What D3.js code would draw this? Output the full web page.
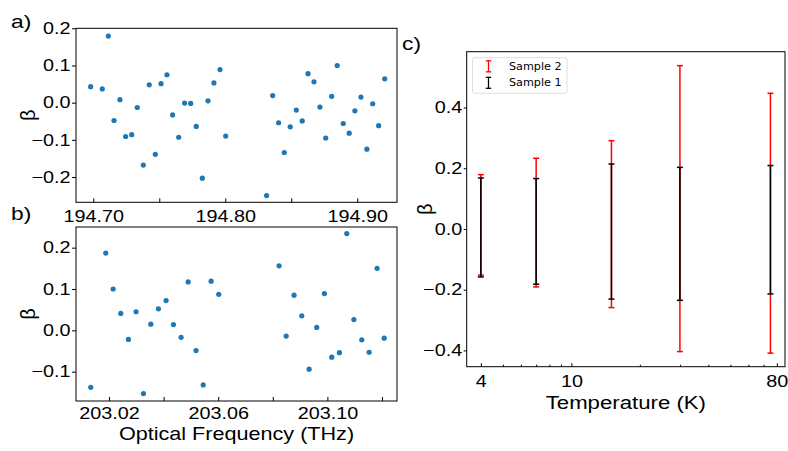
<!DOCTYPE html>
<html>
<head>
<meta charset="utf-8">
<script src="https://cdn.jsdelivr.net/npm/d3@7"></script>
<style>
  body { margin: 0; background: #fff; }
  svg { display: block; }
</style>
</head>
<body>
<svg id="fig" width="788" height="451"></svg>
<script>
// panel a: beta vs optical frequency around 194.8 THz
let freqA = [194.698, 194.7068, 194.7114, 194.7157, 194.7202, 194.7245, 194.7291, 194.7333, 194.7379, 194.7424,
    194.7470, 194.7513, 194.7558, 194.7601, 194.7647, 194.7692, 194.7738, 194.7780, 194.7826, 194.7869,
    194.7914, 194.7960, 194.8003, 194.8313, 194.8359, 194.8404, 194.8447, 194.8492, 194.8538, 194.8583,
    194.8627, 194.8672, 194.8717, 194.8761, 194.8806, 194.8848, 194.8894, 194.8939, 194.8982, 194.9028,
    194.9073, 194.9117, 194.9162, 194.9208]
let betaA = [0.043, 0.037, 0.179, -0.048, 0.008, -0.091, -0.086, -0.013, -0.168, 0.048,
    -0.139, 0.051, 0.075, -0.033, -0.093, -0.001, -0.002, -0.064, -0.203, 0.005,
    0.053, 0.089, -0.090, -0.250, 0.019, -0.054, -0.134, -0.065, -0.020, -0.049,
    0.078, 0.056, -0.012, -0.095, 0.017, 0.100, -0.056, -0.082, -0.022, 0.015,
    -0.125, -0.003, -0.062, 0.064]

// panel b: beta vs optical frequency around 203.07 THz
let freqB = [203.0133, 203.0188, 203.0215, 203.0243, 203.0271, 203.0299, 203.0326, 203.0353, 203.0381, 203.0409,
    203.0436, 203.0464, 203.0490, 203.0519, 203.0545, 203.0574, 203.0602, 203.0823, 203.0849, 203.0878,
    203.0906, 203.0933, 203.0961, 203.0989, 203.1016, 203.1044, 203.1071, 203.1097, 203.1126, 203.1153,
    203.1182, 203.1208]
let betaB = [-0.138, 0.187, 0.100, 0.041, -0.022, 0.045, -0.153, 0.015, 0.052, 0.072,
    0.014, -0.017, 0.117, -0.049, -0.132, 0.119, 0.087, 0.156, -0.014, 0.085,
    0.035, -0.094, 0.007, 0.089, -0.065, -0.054, 0.234, 0.026, -0.023, -0.053,
    0.150, -0.019]

// panel c: beta range vs temperature
let temps = [4, 7, 15, 30, 75]
let s2Low = [-0.152, -0.191, -0.259, -0.404, -0.409]
let s2High = [0.179, 0.233, 0.291, 0.538, 0.447]
let s1Low = [-0.158, -0.182, -0.231, -0.235, -0.214]
let s1High = [0.168, 0.166, 0.214, 0.203, 0.209]

// ticks
let ticksA = [194.70, 194.75, 194.80, 194.85, 194.90]
let labelsA = [194.70, 194.80, 194.90]
let yTicksA = [-0.2, -0.1, 0.0, 0.1, 0.2]
let ticksB = [203.02, 203.04, 203.06, 203.08, 203.10, 203.12]
let labelsB = [203.02, 203.06, 203.10]
let yTicksB = [-0.1, 0.0, 0.1, 0.2]
let majorT = [4, 10, 80]
let minorT = [5, 6, 7, 8, 9, 20, 30, 40, 50, 60, 70]
let yTicksC = [-0.4, -0.2, 0.0, 0.2, 0.4]

let font = "'Liberation Sans', Arial, Helvetica, sans-serif"
let stretch = 1.2
let blue = "#1f77b4"

let svg = d3.select("#fig")

// widen tick text a bit, the original glyphs look stretched
function styleTicks(g, size) {
    g.selectAll(".tick text")
        .attr("font-family", font)
        .attr("font-size", size)
        .attr("fill", "#000")
        .each(function() {
            let t = d3.select(this)
            let x = +t.attr("x") || 0
            t.attr("x", x / stretch).attr("transform", `scale(${stretch},1)`)
        })
    g.selectAll(".tick line").attr("stroke", "#000")
    g.select(".domain").remove()
}

function wideText(x, y, str, size, anchor) {
    return svg.append("text")
        .attr("transform", `translate(${x},${y}) scale(${stretch},1)`)
        .attr("font-family", font)
        .attr("font-size", size)
        .attr("text-anchor", anchor || "middle")
        .text(str)
}

function frame(l, t, r, b) {
    svg.append("rect")
        .attr("x", l).attr("y", t)
        .attr("width", r - l).attr("height", b - t)
        .attr("fill", "none")
        .attr("stroke", "#000")
        .attr("stroke-width", 1)
}

function betaLabel(x, y) {
    svg.append("text")
        .attr("transform", `translate(${x}, ${y}) rotate(-90)`)
        .attr("font-family", font)
        .attr("font-size", 20)
        .attr("text-anchor", "middle")
        .text("β")
}

function scatterPanel(box, xs, ys, xDom, yDom, ticks, labels, yTicks, tickPad) {
    let x = d3.scaleLinear().domain(xDom).range([box.l, box.r])
    let y = d3.scaleLinear().domain(yDom).range([box.b, box.t])

    svg.append("g")
        .selectAll("circle")
        .data(xs)
        .join("circle")
        .attr("cx", function(d) { return x(d) })
        .attr("cy", function(d, i) { return y(ys[i]) })
        .attr("r", 2.6)
        .attr("fill", blue)

    let xAxis = svg.append("g")
        .attr("transform", `translate(0, ${box.b})`)
        .call(d3.axisBottom(x)
            .tickValues(ticks)
            .tickSize(-4)
            .tickPadding(tickPad)
            .tickFormat(function(d) {
                return labels.some(function(v) { return Math.abs(v - d) < 1e-6 }) ? d3.format(".2f")(d) : ""
            }))
    styleTicks(xAxis, 16.5)

    let yAxis = svg.append("g")
        .attr("transform", `translate(${box.l}, 0)`)
        .call(d3.axisLeft(y)
            .tickValues(yTicks)
            .tickSize(4)
            .tickPadding(1.5)
            .tickFormat(d3.format(".1f")))
    styleTicks(yAxis, 16.5)

    frame(box.l, box.t, box.r, box.b)
    betaLabel(box.l - 41, (box.t + box.b) / 2)
}

// panel a
let boxA = {l: 76, r: 397, t: 28.3, b: 202.3}
scatterPanel(boxA, freqA, betaA, [194.6869, 194.9301], [-0.268, 0.2], ticksA, labelsA, yTicksA, 7.7)

// panel b
let boxB = {l: 76, r: 397, t: 227, b: 401}
scatterPanel(boxB, freqB, betaB, [203.0079, 203.1255], [-0.171, 0.250], ticksB, labelsB, yTicksB, 6.3)

wideText(236.5, 439.5, "Optical Frequency (THz)", 18)
wideText(11, 28, "a)", 19, "start")
wideText(11, 220, "b)", 19, "start")
wideText(402, 50, "c)", 19, "start")

// panel c
let boxC = {l: 466.7, r: 785, t: 51.7, b: 366.7}
let xC = d3.scaleLog().domain([3.466, 86.9]).range([boxC.l, boxC.r])
let yC = d3.scaleLinear().domain([-0.4537, 0.584]).range([boxC.b, boxC.t])

let series = [
    {name: "Sample 2", color: "#ff0000", low: s2Low, high: s2High},
    {name: "Sample 1", color: "#000000", low: s1Low, high: s1High}
]
let capW = 3

series.forEach(function(s) {
    let g = svg.append("g").attr("stroke", s.color).attr("stroke-width", 1.5)
    g.selectAll(".bar")
        .data(temps)
        .join("line")
        .attr("x1", function(d) { return xC(d) })
        .attr("x2", function(d) { return xC(d) })
        .attr("y1", function(d, i) { return yC(s.low[i]) })
        .attr("y2", function(d, i) { return yC(s.high[i]) })
    g.selectAll(".capLow")
        .data(temps)
        .join("line")
        .attr("x1", function(d) { return xC(d) - capW })
        .attr("x2", function(d) { return xC(d) + capW })
        .attr("y1", function(d, i) { return yC(s.low[i]) })
        .attr("y2", function(d, i) { return yC(s.low[i]) })
    g.selectAll(".capHigh")
        .data(temps)
        .join("line")
        .attr("x1", function(d) { return xC(d) - capW })
        .attr("x2", function(d) { return xC(d) + capW })
        .attr("y1", function(d, i) { return yC(s.high[i]) })
        .attr("y2", function(d, i) { return yC(s.high[i]) })
})

let xAxisC = svg.append("g")
    .attr("transform", `translate(0, ${boxC.b})`)
    .call(d3.axisBottom(xC)
        .tickValues(majorT)
        .tickSize(-3.5)
        .tickPadding(8.3)
        .tickFormat(d3.format("d")))
styleTicks(xAxisC, 16.5)

let xMinorC = svg.append("g")
    .attr("transform", `translate(0, ${boxC.b})`)
    .call(d3.axisBottom(xC)
        .tickValues(minorT)
        .tickSize(-2)
        .tickFormat(""))
styleTicks(xMinorC, 16.5)

let yAxisC = svg.append("g")
    .attr("transform", `translate(${boxC.l}, 0)`)
    .call(d3.axisLeft(yC)
        .tickValues(yTicksC)
        .tickSize(3)
        .tickPadding(1.5)
        .tickFormat(d3.format(".1f")))
styleTicks(yAxisC, 16.5)

frame(boxC.l, boxC.t, boxC.r, boxC.b)

wideText((boxC.l + boxC.r) / 2, 409, "Temperature (K)", 18.5)
betaLabel(boxC.l - 35, (boxC.t + boxC.b) / 2)

// legend
let legend = svg.append("g")
legend.append("rect")
    .attr("x", 472.5).attr("y", 57.7)
    .attr("width", 94.5).attr("height", 35.6)
    .attr("rx", 2)
    .attr("fill", "#fff")
    .attr("fill-opacity", 0.8)
    .attr("stroke", "#d6d6d6")
    .attr("stroke-width", 0.8)

series.forEach(function(s, i) {
    let cy = 66.3 + i * 16.5
    let mk = legend.append("g").attr("stroke", s.color).attr("stroke-width", 1.3)
    mk.append("line").attr("x1", 488.5).attr("x2", 488.5).attr("y1", cy - 5.5).attr("y2", cy + 5.5)
    mk.append("line").attr("x1", 485.8).attr("x2", 491.2).attr("y1", cy - 5.5).attr("y2", cy - 5.5)
    mk.append("line").attr("x1", 485.8).attr("x2", 491.2).attr("y1", cy + 5.5).attr("y2", cy + 5.5)
    legend.append("text")
        .attr("transform", `translate(509, ${cy + 3.6}) scale(1.12,1)`)
        .attr("font-family", "'DejaVu Sans', sans-serif")
        .attr("font-size", 10)
        .text(s.name)
})
</script>
</body>
</html>
